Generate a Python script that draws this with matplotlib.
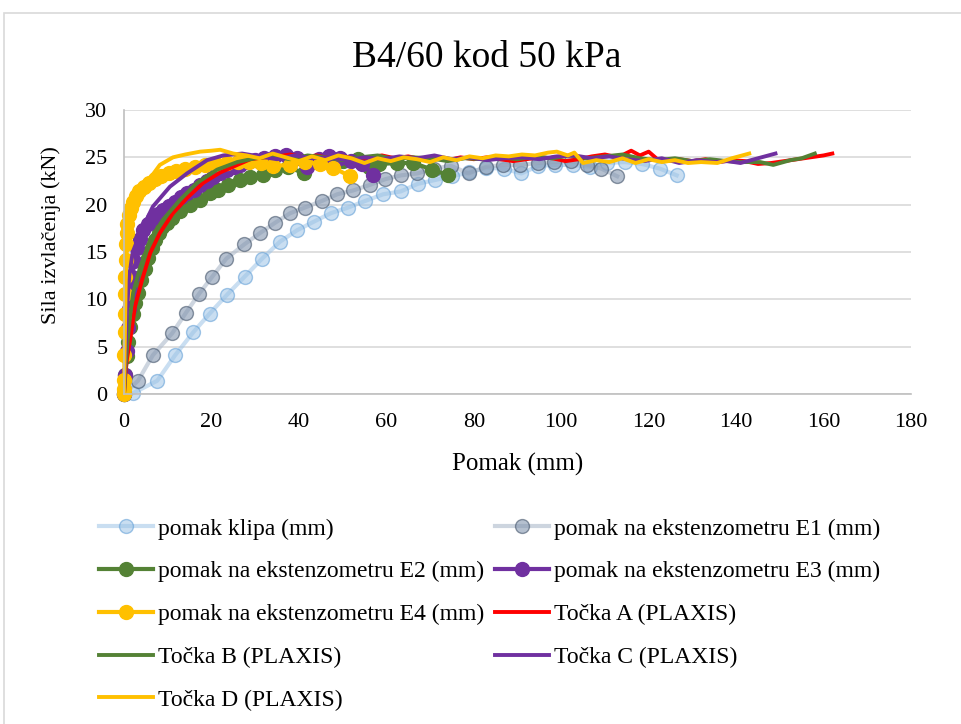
import matplotlib.pyplot as plt
from matplotlib.patches import Rectangle

plt.rcParams['font.family'] = ['Liberation Serif', 'DejaVu Serif']

# measured series (x = pomak in mm, y = sila in kN)
klipa_x = [0, 2.1, 7.6, 11.7, 15.8, 19.6, 23.6, 27.6, 31.6, 35.7, 39.6, 43.4, 47.3, 51.3, 55.2,
           59.3, 63.3, 67.2, 71.1, 75.0, 78.9, 82.8, 86.9, 90.9, 94.8, 98.5, 102.6, 106.6, 110.5,
           114.5, 118.5, 122.6, 126.4]
klipa_y = [0, 0.1, 1.4, 4.1, 6.5, 8.5, 10.5, 12.4, 14.3, 16.1, 17.3, 18.2, 19.1, 19.7, 20.4,
           21.1, 21.4, 22.2, 22.6, 23.0, 23.4, 23.9, 23.8, 23.3, 24.1, 24.2, 24.2, 24.0, 24.4,
           24.5, 24.3, 23.8, 23.1]

e1_x = [0, 3.2, 6.6, 11.0, 14.2, 17.2, 20.2, 23.4, 27.5, 31.1, 34.6, 38.0, 41.4, 45.3, 48.8,
        52.4, 56.3, 59.8, 63.4, 67.1, 70.9, 74.8, 78.8, 82.8, 86.7, 90.6, 94.6, 98.4, 102.3,
        106.0, 109.2, 112.8]
e1_y = [0, 1.4, 4.1, 6.4, 8.6, 10.6, 12.4, 14.3, 15.8, 17.0, 18.1, 19.1, 19.7, 20.4, 21.1,
        21.5, 22.1, 22.7, 23.1, 23.3, 23.8, 24.1, 23.3, 24.0, 24.2, 24.2, 24.4, 24.5, 24.6,
        24.2, 23.8, 23.0]

e2_x = [0, 0.3, 0.6, 1.0, 1.4, 2.0, 2.6, 3.2, 4.0, 4.8, 5.5, 6.3, 7.1, 7.9, 8.7, 9.8, 11.0,
        12.8, 15.1, 17.4, 19.7, 21.5, 23.8, 26.6, 28.9, 31.8, 34.5, 37.5, 41.2, 44.0, 47.0,
        50.0, 53.5, 56.0, 58.4, 62.5, 66.2, 70.5, 74.2]
e2_y = [0, 2.0, 4.0, 5.5, 7.1, 8.5, 9.6, 10.7, 12.0, 13.2, 14.4, 15.4, 16.3, 17.0, 17.6, 18.1,
        18.6, 19.3, 20.0, 20.5, 21.2, 21.5, 22.1, 22.6, 22.9, 23.1, 23.7, 24.0, 23.3, 24.6,
        25.0, 24.6, 24.8, 24.0, 24.3, 24.4, 24.4, 23.7, 23.1]

e3_x = [0, 0.3, 0.6, 0.9, 1.2, 1.5, 1.9, 2.4, 3.0, 3.7, 4.4, 5.4, 6.6, 7.7, 8.9, 10.2, 11.7,
        13.0, 14.4, 15.9, 17.4, 18.9, 20.4, 22.0, 23.6, 25.1, 26.6, 28.3, 30.0, 32.0, 34.5,
        37.0, 39.5, 41.9, 44.5, 47.0, 49.5, 52.0, 54.5, 57.0]
e3_y = [0, 2.0, 4.5, 7.0, 9.0, 10.8, 12.4, 14.0, 15.4, 16.4, 17.3, 18.0, 18.6, 19.0, 19.4,
        19.9, 20.3, 20.8, 21.2, 21.6, 22.1, 22.5, 22.9, 23.3, 23.7, 24.0, 24.2, 24.5, 24.7,
        24.9, 25.1, 25.2, 24.9, 24.0, 24.8, 25.1, 24.9, 24.6, 24.3, 23.1]

e4_x = [0, 0.0, 0.1, 0.1, 0.2, 0.2, 0.3, 0.3, 0.4, 0.5, 0.6, 0.8, 1.1, 1.5, 2.0, 2.7, 3.5,
        4.5, 5.7, 7.0, 8.5, 10.2, 12.0, 14.0, 16.2, 18.5, 21.0, 23.5, 26.0, 28.7, 31.4, 34.1,
        38.0, 41.5, 44.8, 47.9, 51.7]
e4_y = [0, 0.5, 1.5, 4.1, 6.6, 8.5, 10.6, 12.4, 14.2, 15.8, 17.0, 18.0, 18.9, 19.7, 20.3,
        20.9, 21.4, 21.9, 22.3, 22.7, 23.0, 23.3, 23.6, 23.8, 24.0, 24.2, 24.3, 24.4, 24.5,
        24.5, 24.4, 24.1, 24.2, 24.5, 24.3, 23.9, 23.0]

# PLAXIS results
a_x = [0, 0.3, 0.7, 1.4, 2.5, 4.1, 6.0, 8.2, 11.2, 14.4, 18.1, 22.0, 25.9, 28.9, 32, 35, 38,
       41, 44, 47, 50, 53, 56, 59, 62, 65, 68, 71, 74, 77, 80, 83, 86, 89, 92, 95, 98, 101,
       104, 107, 110, 113, 116, 118, 120, 122, 124, 127, 130, 133, 136, 139, 142, 145, 148,
       151, 154, 157, 160, 162]
a_y = [0, 2.0, 3.8, 5.7, 9.2, 12.0, 14.9, 17.0, 19.1, 20.7, 22.3, 23.4, 24.2, 24.8, 25.0,
       25.1, 25.3, 25.0, 25.2, 24.9, 25.1, 24.8, 25.0, 25.2, 24.9, 25.1, 24.8, 24.9, 24.7,
       25.0, 24.8, 25.0, 24.8, 24.6, 24.8, 25.0, 24.9, 24.6, 24.8, 25.1, 25.3, 25.0, 25.7,
       25.2, 25.6, 24.8, 24.6, 24.8, 24.6, 24.8, 24.5, 24.7, 24.6, 24.3, 24.4, 24.6, 24.8,
       25.0, 25.2, 25.4]

b_x = [0, 0.3, 0.8, 1.4, 2.1, 3.7, 6.0, 8.9, 12.8, 16.7, 21.3, 25.9, 30, 34, 38, 42, 46, 50,
       54, 58, 62, 66, 70, 74, 78, 82, 86, 90, 94, 98, 102, 106, 110, 114, 118, 122, 126, 130,
       134, 138, 141, 145.5, 148.5, 152.4, 155, 158]
b_y = [0, 2.5, 5.5, 8.3, 10.7, 13.4, 16.3, 18.4, 20.5, 22.3, 23.7, 24.5, 24.9, 25.1, 24.8,
       25.2, 25.0, 24.7, 25.0, 25.2, 24.8, 25.0, 24.9, 24.6, 24.9, 24.8, 25.0, 24.8, 25.1,
       24.9, 25.2, 24.9, 25.1, 25.3, 24.9, 24.7, 24.9, 24.6, 24.8, 24.6, 24.5, 24.5, 24.2,
       24.7, 24.9, 25.4]

c_x = [0, 0.3, 0.7, 1.2, 2.0, 3.7, 6.6, 10.5, 14.4, 19.0, 22.7, 27, 31, 35, 39, 43, 47, 51,
       55, 59, 63, 67, 71, 75, 79, 83, 87, 91, 95, 99, 103, 107, 111, 115, 119, 123, 127, 131,
       135, 138, 141, 145, 149]
c_y = [0, 4.0, 9.0, 12.5, 15.0, 17.0, 19.8, 21.9, 23.3, 24.7, 25.2, 25.4, 25.1, 24.8, 25.2,
       24.9, 25.0, 24.7, 25.0, 24.8, 25.1, 24.9, 25.2, 24.8, 25.0, 24.7, 24.9, 25.0, 24.8,
       25.1, 25.2, 24.9, 25.1, 24.8, 24.6, 24.9, 24.4, 24.7, 24.5, 24.6, 24.4, 24.9, 25.4]

d_x = [0, 0.2, 0.4, 0.7, 1.2, 2.0, 3.5, 5.5, 8.2, 11.2, 14.0, 17.4, 20.0, 22.0, 25.0, 28, 31,
       34, 37, 40, 43, 46, 49, 52, 55, 58, 61, 64, 67, 70, 73, 76, 79, 82, 85, 88, 91, 94, 97,
       99, 101.5, 103, 105, 108, 111, 114, 117, 120, 123, 126, 129, 132, 135.7, 139, 143]
d_y = [0, 6.0, 12.0, 16.0, 18.0, 19.5, 21.0, 22.5, 24.2, 25.0, 25.3, 25.6, 25.7, 25.8, 25.4,
       25.2, 24.9, 25.4, 25.0, 24.6, 25.1, 24.7, 25.2, 24.9, 24.4, 24.9, 24.6, 25.0, 24.8,
       24.5, 25.0, 24.7, 25.1, 24.9, 25.2, 25.1, 25.3, 25.2, 25.5, 25.6, 25.2, 25.5, 24.4,
       24.7, 24.5, 24.9, 24.4, 24.8, 24.5, 24.7, 24.4, 24.5, 24.4, 24.9, 25.4]

labels = ['pomak klipa (mm)', 'pomak na ekstenzometru E1 (mm)',
          'pomak na ekstenzometru E2 (mm)', 'pomak na ekstenzometru E3 (mm)',
          'pomak na ekstenzometru E4 (mm)', 'Točka A (PLAXIS)', 'Točka B (PLAXIS)',
          'Točka C (PLAXIS)', 'Točka D (PLAXIS)']

fig = plt.figure(figsize=(9.62, 7.24), dpi=100)
# light chart border
fig.patches.append(Rectangle((4 / 962, -0.01), 1.0, 1 - 13 / 724 + 0.01, transform=fig.transFigure,
                             fill=False, ec='#D9D9D9', lw=1.2))

ax = fig.add_axes([124 / 962, 1 - 394 / 724, 787 / 962, 284 / 724])

ms = 10
lines = []
# measurements (markers, partly transparent for klipa and E1)
l, = ax.plot(klipa_x, klipa_y, color='#9DC3E6', alpha=0.55, lw=3,
             marker='o', ms=ms, mfc='#9DC3E6', mec='#5B9BD5', mew=1, clip_on=False)
lines.append(l)
l, = ax.plot(e1_x, e1_y, color='#ADB9CA', alpha=0.6, lw=3,
             marker='o', ms=ms, mfc='#8497B0', mec='#44546A', mew=1, clip_on=False)
lines.append(l)
for xs, ys, c in [(e2_x, e2_y, '#548235'), (e3_x, e3_y, '#7030A0'), (e4_x, e4_y, '#FFC000')]:
    l, = ax.plot(xs, ys, color=c, lw=3, marker='o', ms=ms, mec=c, clip_on=False)
    lines.append(l)
for xs, ys, c in [(a_x, a_y, '#FF0000'), (b_x, b_y, '#548235'),
                  (c_x, c_y, '#7030A0'), (d_x, d_y, '#FFC000')]:
    l, = ax.plot(xs, ys, color=c, lw=2.8, solid_joinstyle='round')
    lines.append(l)

ax.set_xlim(0, 180)
ax.set_ylim(0, 30)
ax.set_xticks(range(0, 181, 20))
ax.set_yticks(range(0, 31, 5))
ax.grid(axis='y', color='#D9D9D9', lw=1.2)
ax.set_axisbelow(True)
for s in ['top', 'right']:
    ax.spines[s].set_visible(False)
for s in ['left', 'bottom']:
    ax.spines[s].set_color('#BFBFBF')
    ax.spines[s].set_linewidth(1.2)
ax.tick_params(length=0, labelsize=16)
ax.tick_params(axis='x', pad=14)
ax.tick_params(axis='y', pad=12)
ax.set_xlabel('Pomak (mm)', fontsize=18, labelpad=15)
ax.set_ylabel('Sila izvlačenja (kN)', fontsize=16)
ax.yaxis.set_label_coords(-0.080, 0.56)
fig.text(487 / 962, 1 - 58 / 724, 'B4/60 kod 50 kPa', ha='center', va='center', fontsize=27)

# legend laid out row by row like the original
order = [0, 2, 4, 6, 8, 1, 3, 5, 7]
fig.legend([lines[i] for i in order], [labels[i] for i in order], ncol=2,
           loc='upper left', bbox_to_anchor=(99 / 962, 1 - 518 / 724), frameon=False,
           fontsize=17, handlelength=2.3, handletextpad=0.2, columnspacing=0.45,
           labelspacing=0.9, borderaxespad=0, borderpad=0)

fig.savefig('out.png', dpi=100)
